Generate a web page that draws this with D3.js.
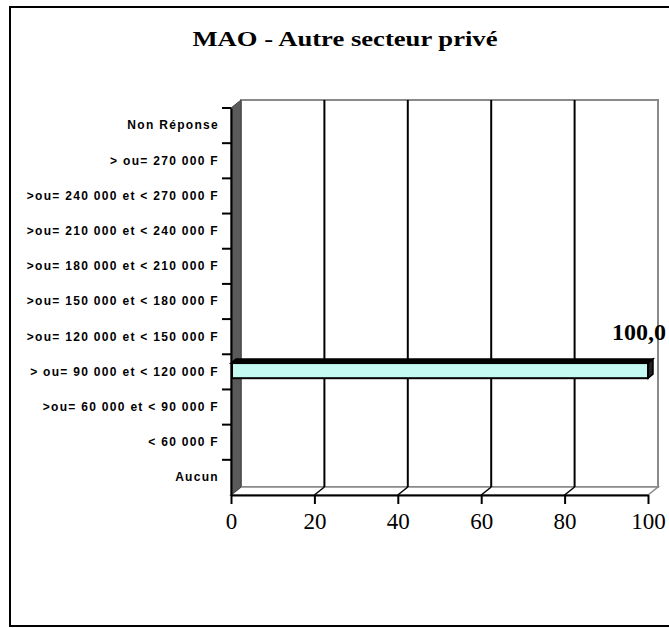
<!DOCTYPE html>
<html><head><meta charset="utf-8">
<script src="https://cdn.jsdelivr.net/npm/d3@7"></script>
<style>html,body{margin:0;padding:0;background:#fff;}</style>
</head><body>
<svg id="c" width="669" height="628"></svg>
<script>
const title = "MAO  -  Autre secteur privé";
const categories = ["Aucun", "< 60 000 F", ">ou= 60 000 et < 90 000 F", "> ou= 90 000 et < 120 000 F",
  ">ou= 120 000 et < 150 000 F", ">ou= 150 000 et < 180 000 F", ">ou= 180 000 et < 210 000 F",
  ">ou= 210 000 et < 240 000 F", ">ou= 240 000 et < 270 000 F", "> ou= 270 000 F", "Non Réponse"];
const values = [0, 0, 0, 100, 0, 0, 0, 0, 0, 0, 0];
const valueLabels = ["", "", "", "100,0", "", "", "", "", "", "", ""];
const xTicks = [0, 20, 40, 60, 80, 100];

const svg = d3.select("#c");
const dx = 10, dy = -8;
const x = d3.scaleLinear().domain([0, 100]).range([231, 648]);
const y = d3.scaleBand().domain(categories).range([495, 108]).padding(0);

// frame
svg.append("rect").attr("x", 10).attr("y", 7).attr("width", 700).attr("height", 619)
  .attr("fill", "#fff").attr("stroke", "#000").attr("stroke-width", 2);

// title
svg.append("text").attr("x", 345).attr("y", 46).attr("text-anchor", "middle")
  .attr("font-family", "Liberation Serif, serif").attr("font-weight", "bold").attr("font-size", 22)
  .attr("textLength", 305).attr("lengthAdjust", "spacingAndGlyphs").text(title);

const x0 = x(0), x1 = x(100), yTop = y.range()[1], yBot = y.range()[0];

// back wall
svg.append("rect").attr("x", x0 + dx).attr("y", yTop + dy).attr("width", x1 - x0).attr("height", yBot - yTop)
  .attr("fill", "#fff").attr("stroke", "#8a8a8a").attr("stroke-width", 2);

// floor
svg.append("path").attr("d", `M${x0},${yBot}L${x0+dx},${yBot+dy}L${x1+dx},${yBot+dy}L${x1},${yBot}Z`)
  .attr("fill", "#fff").attr("stroke", "#8a8a8a").attr("stroke-width", 1.5);

// gridlines
const grid = xTicks.filter(t => t > 0 && t < 100);
svg.selectAll(".gv").data(grid).join("line")
  .attr("x1", d => x(d) + dx).attr("x2", d => x(d) + dx)
  .attr("y1", yTop + dy).attr("y2", yBot + dy)
  .attr("stroke", "#000").attr("stroke-width", 2);
svg.selectAll(".gf").data(grid).join("line")
  .attr("x1", d => x(d) + dx).attr("x2", d => x(d))
  .attr("y1", yBot + dy).attr("y2", yBot)
  .attr("stroke", "#000").attr("stroke-width", 1.5);

// side wall
svg.append("path").attr("d", `M${x0},${yTop}L${x0+dx},${yTop+dy}L${x0+dx},${yBot+dy}L${x0},${yBot}Z`)
  .attr("fill", "#5a5a5a").attr("stroke", "#444").attr("stroke-width", 1);

// bars
const bw = y.bandwidth();
const bdx = 5, bdy = -4;
const bars = svg.selectAll(".bar").data(categories.map((c, i) => ({c, v: values[i], l: valueLabels[i]})).filter(d => d.v > 0)).join("g");
bars.append("path").attr("d", d => {
  const yt = y(d.c) + bw * 0.25;
  return `M${x0},${yt}L${x0+bdx},${yt+bdy}L${x(d.v)+bdx},${yt+bdy}L${x(d.v)},${yt}Z`;
}).attr("fill", "#000").attr("stroke", "#000").attr("stroke-width", 1.5);
bars.append("path").attr("d", d => {
  const yt = y(d.c) + bw * 0.25, h = bw * 0.43;
  return `M${x(d.v)},${yt}L${x(d.v)+bdx},${yt+bdy}L${x(d.v)+bdx},${yt+bdy+h}L${x(d.v)},${yt+h}Z`;
}).attr("fill", "#222").attr("stroke", "#000").attr("stroke-width", 1.5);
bars.append("rect").attr("x", x0 + 1).attr("y", d => y(d.c) + bw * 0.25)
  .attr("width", d => x(d.v) - x0 - 1).attr("height", bw * 0.43)
  .attr("fill", "#c4faf2").attr("stroke", "#000").attr("stroke-width", 2);
bars.append("text").attr("x", d => x(d.v) - 36).attr("y", d => y(d.c) + bw * 0.25 - 23)
  .attr("font-family", "Liberation Serif, serif").attr("font-weight", "bold").attr("font-size", 24)
  .text(d => d.l);

// y axis
const yAxis = d3.axisLeft(y).tickSize(0).tickPadding(12);
const gy = svg.append("g").attr("transform", `translate(${x0},0)`).call(yAxis);
gy.select(".domain").attr("stroke", "#000").attr("stroke-width", 2);
gy.selectAll("text").attr("font-family", "Liberation Sans, Arial, sans-serif").attr("font-weight", "bold")
  .attr("font-size", 12).attr("letter-spacing", 1.3).attr("fill", "#000");
// category boundary ticks
const bounds = categories.map(c => y(c)).concat([yTop]);
svg.selectAll(".yt").data(bounds).join("line")
  .attr("x1", x0 - 9).attr("x2", x0).attr("y1", d => d).attr("y2", d => d)
  .attr("stroke", "#000").attr("stroke-width", 2);

// x axis
const xAxis = d3.axisBottom(x).tickValues(xTicks).tickSize(9).tickPadding(9).tickSizeOuter(0);
const gx = svg.append("g").attr("transform", `translate(0,${yBot})`).call(xAxis);
gx.select(".domain").attr("stroke", "#000").attr("stroke-width", 2);
gx.selectAll(".tick line").attr("stroke", "#000").attr("stroke-width", 2);
gx.selectAll("text").attr("font-family", "Liberation Serif, serif").attr("font-size", 23).attr("fill", "#000");
</script>
</body></html>
